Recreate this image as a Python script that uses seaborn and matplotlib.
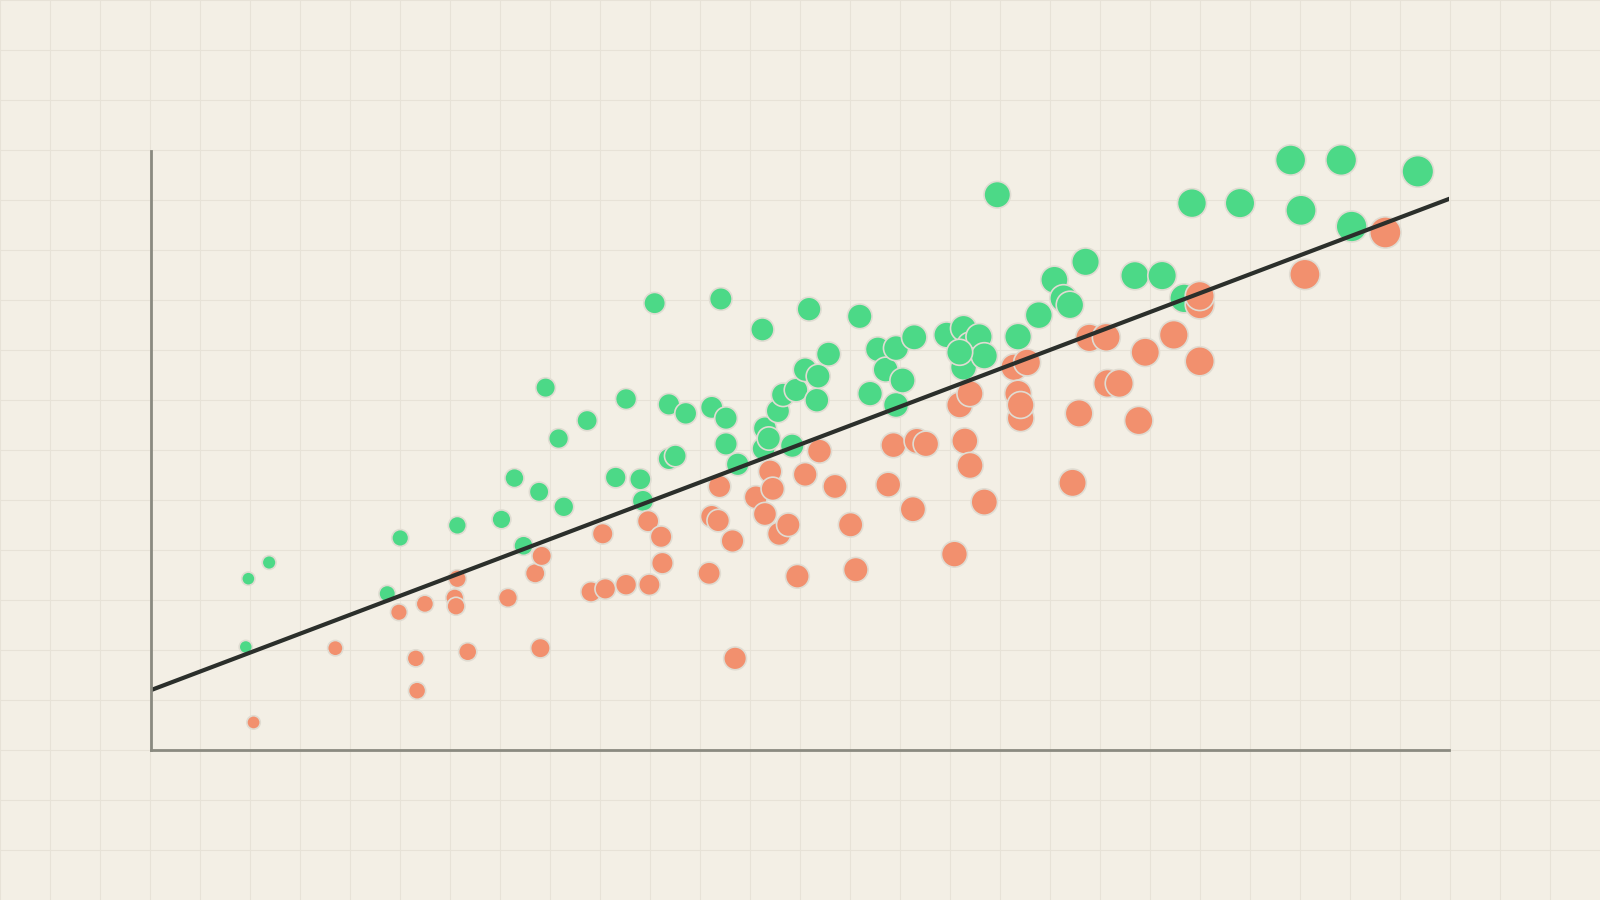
import numpy as np
import pandas as pd
import matplotlib
matplotlib.use("Agg")
import matplotlib.pyplot as plt
import seaborn as sns

# values (x and y on a 0-100 scale)
green_x = [7.5, 9.1, 7.3, 19.2, 18.2, 23.6, 27.0, 28.0, 29.9, 28.7, 30.4, 31.4, 31.8, 33.6, 35.8, 36.6, 37.7, 37.9,
           38.8, 39.9, 39.9, 40.4, 41.2, 43.2, 43.9, 44.3, 44.3, 45.2, 47.1, 47.2, 47.3, 47.6, 48.3, 48.7, 49.4, 49.7,
           50.4, 51.3, 51.4, 52.2, 50.7, 54.6, 55.4, 56.0, 56.6, 57.4, 57.4, 57.9, 58.8, 61.3, 62.6, 63.1, 63.8, 62.6,
           64.2, 62.3, 65.2, 66.8, 68.4, 69.6, 70.3, 70.8, 72.0, 75.8, 77.9, 79.6, 80.2, 83.9, 87.8, 88.6, 91.7, 92.5,
           97.6]
green_y = [28.6, 31.3, 17.2, 35.4, 26.1, 37.5, 38.5, 45.4, 43.1, 34.1, 60.5, 52.0, 40.6, 55.0, 45.5, 58.6, 45.2,
           41.6, 74.6, 57.7, 48.6, 49.1, 56.2, 57.2, 75.3, 55.4, 51.1, 47.7, 70.2, 50.3, 53.7, 52.0, 56.6, 59.3, 50.8,
           60.1, 63.5, 58.4, 62.4, 66.1, 73.6, 72.4, 59.5, 66.9, 63.5, 67.1, 57.6, 61.7, 68.9, 69.3, 70.4, 67.6, 69.0,
           63.9, 65.8, 66.4, 92.7, 69.0, 72.6, 78.5, 75.4, 74.3, 81.5, 79.2, 79.2, 75.4, 91.3, 91.3, 98.5, 90.1, 98.5,
           87.4, 96.6]
orange_x = [7.9, 14.2, 19.1, 20.4, 20.5, 21.1, 23.4, 23.5, 23.6, 24.4, 27.5, 29.6, 30.1, 30.0, 33.9, 35.0, 34.8,
            36.6, 38.4, 38.3, 39.3, 39.4, 43.0, 43.2, 43.7, 43.8, 44.8, 45.0, 46.6, 47.3, 47.7, 47.9, 48.4, 49.1, 49.8,
            50.4, 51.5, 52.7, 53.9, 54.3, 56.8, 57.2, 58.7, 59.0, 59.7, 61.9, 62.3, 62.7, 63.1, 63.1, 64.2, 66.5, 67.5,
            66.8, 67.0, 67.0, 71.0, 71.5, 72.3, 73.6, 73.7, 74.6, 76.1, 76.6, 78.8, 80.8, 80.8, 80.8, 88.9, 95.1]
orange_y = [4.6, 17.0, 23.0, 15.3, 9.9, 24.4, 25.4, 24.0, 28.6, 16.4, 25.4, 29.5, 32.4, 17.0, 26.4, 26.9, 36.1,
            27.6, 27.6, 38.2, 35.6, 31.2, 29.5, 39.0, 38.3, 44.0, 34.9, 15.3, 42.2, 39.4, 46.5, 43.6, 36.1, 37.6, 29.0,
            46.0, 49.9, 44.0, 37.6, 30.1, 44.3, 50.9, 40.2, 51.6, 51.1, 32.7, 57.6, 51.6, 47.5, 59.5, 41.4, 63.9, 64.7,
            59.5, 55.4, 57.6, 44.6, 56.2, 68.8, 68.9, 61.2, 61.2, 55.0, 66.4, 69.3, 64.9, 74.4, 75.8, 79.4, 86.4]
line_x = [0, 100]
line_y = [10.0, 92.0]

df = pd.concat([
    pd.DataFrame({"x": green_x, "y": green_y, "side": "above"}),
    pd.DataFrame({"x": orange_x, "y": orange_y, "side": "below"}),
])

W, H = 1568, 882
fig = plt.figure(figsize=(16, 9), dpi=100)
bg = "#f3efe5"
fig.patch.set_facecolor(bg)

# graph-paper background
grid_ax = fig.add_axes([0, 0, 1, 1])
grid_ax.set_facecolor(bg)
grid_ax.set_xlim(0, W)
grid_ax.set_ylim(H, 0)
for gx in np.arange(0, W, 49):
    grid_ax.axvline(gx, color="#e7e2d7", lw=0.8)
for gy in np.arange(0, H, 49):
    grid_ax.axhline(gy, color="#e7e2d7", lw=0.8)
grid_ax.axis("off")

ax = fig.add_axes([148 / W, (H - 735) / H, 1272 / W, 587 / H])
ax.patch.set_alpha(0)
sns.scatterplot(data=df, x="x", y="y", hue="side", size="x", sizes=(90, 520),
                palette={"above": "#4cd987", "below": "#f2906e"},
                edgecolor="#e0dcd2", linewidth=1.2, alpha=1, legend=False,
                clip_on=False, ax=ax)
sns.lineplot(x=line_x, y=line_y, color="#2b2f2b", lw=3, ax=ax)
ax.set_xlim(0, 100)
ax.set_ylim(0, 100)
ax.set_xticks([])
ax.set_yticks([])
ax.set_xlabel("")
ax.set_ylabel("")
for s in ["top", "right"]:
    ax.spines[s].set_visible(False)
for s in ["left", "bottom"]:
    ax.spines[s].set_color("#8a8a80")
    ax.spines[s].set_linewidth(2)

fig.savefig("out.png", dpi=100, facecolor=bg)
